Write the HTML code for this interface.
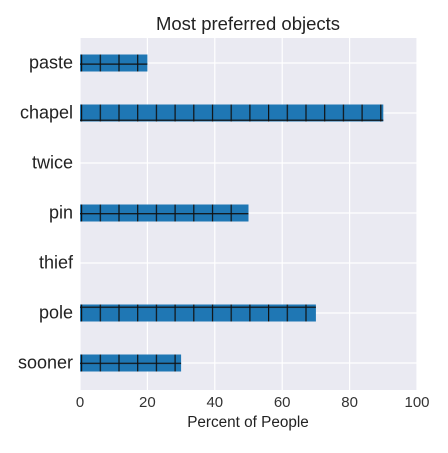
<!DOCTYPE html>
<html><head><meta charset="utf-8"><style>
body{margin:0;background:#fff;font-family:"Liberation Sans","DejaVu Sans",sans-serif}
</style></head><body>
<svg id="chart" width="448" height="448">
<defs>
<pattern id="hatch" patternUnits="userSpaceOnUse" x="81" y="63.5" width="18.7" height="18.7">
<line x1="0" y1="0" x2="0" y2="18.7" stroke="#111" stroke-width="2.4"/>
<line x1="0" y1="0" x2="18.7" y2="0" stroke="#111" stroke-width="2.4"/>
</pattern>
</defs>
</svg>
<script>
const categories=["paste","chapel","twice","pin","thief","pole","sooner"];
const values=[20,90,0,50,0,70,30];
const ticks=[0,20,40,60,80,100];
const svg=document.getElementById('chart');
const NS='http://www.w3.org/2000/svg';
const L=80,R=417,T=38,B=390;
const x=v=>L+(v/100)*(R-L);
const y=i=>63+i*50;
function mk(t,a,p){const e=document.createElementNS(NS,t);for(const k in a)e.setAttribute(k,a[k]);(p||svg).appendChild(e);return e;}
const bg=mk('rect',{x:L,y:T,width:R-L,height:B-T,fill:'#eaeaf2'});


ticks.forEach(t=>{
 const g=mk('line',{x1:x(t),x2:x(t),y1:T,y2:B,stroke:'#fff','stroke-width':1.2});
 
 
 const tl=mk('text',{x:x(t),y:407,'text-anchor':'middle','font-size':15,fill:'#333'});
 tl.textContent=t;
 
 
});
categories.forEach((c,i)=>{
 const g=mk('line',{x1:L,x2:R,y1:y(i),y2:y(i),stroke:'#fff','stroke-width':1.2});
 
 
 const lb=mk('text',{x:73,y:y(i)+5.5,'text-anchor':'end','font-size':18,fill:'#222'});
 lb.textContent=c;
 
 
 if(values[i]>0){
  const r=mk('rect',{x:L,y:y(i)-8.5,width:x(values[i])-L,height:17,fill:'#1f77b4'});
  
  
  const h=mk('rect',{x:L,y:y(i)-8.5,width:x(values[i])-L,height:17,fill:'url(#hatch)'});
  
  
 }
});
const ti=mk('text',{x:248,y:30,'text-anchor':'middle','font-size':18.5,fill:'#222'});
ti.textContent='Most preferred objects';


const xt=mk('text',{x:248,y:427,'text-anchor':'middle','font-size':15.3,fill:'#222'});
xt.textContent='Percent of People';


</script>
</body></html>
